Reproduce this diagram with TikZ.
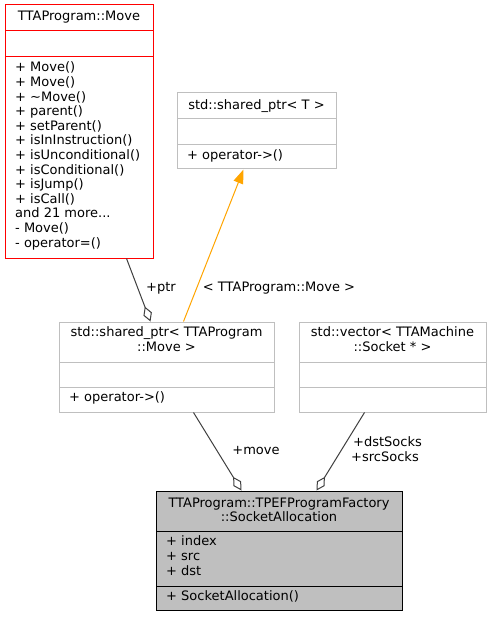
\documentclass[tikz,border=0pt]{standalone}
\usepackage{fontspec}
\setmainfont{DejaVu Sans}
\usetikzlibrary{arrows.meta}
\definecolor{boxgrey}{HTML}{BFBFBF}
\definecolor{edgegrey}{HTML}{404040}
\definecolor{tmplorange}{HTML}{FFA500}
\definecolor{undocred}{HTML}{FF0000}

\begin{document}
\begin{tikzpicture}[x=1pt,y=-1pt,font=\fontsize{13}{15}\selectfont,
  classbox/.style={draw=boxgrey, line width=1pt, inner sep=0pt, fill=white},
  txt/.style={inner sep=0pt, text height=10pt, text depth=3pt},
  member/.style={txt, anchor=west},
  title/.style={txt, anchor=center},
  edge/.style={draw=edgegrey, line width=1pt},
  agg/.style={edge, -{Diamond[fill=white,length=16pt,width=9pt]}}]
\fill[white] (0,0) rectangle (491,617);
\useasboundingbox (0,0) rectangle (491,617);

\node[classbox, draw=undocred, minimum width=148, minimum height=253] (move) at (79,131.5) {};
\draw[undocred, line width=1pt] (5,31) -- (153,31);
\draw[undocred, line width=1pt] (5,57) -- (153,57);
\node[title] (move-t) at (79,17.5) {TTAProgram::Move};
\node[member] (move-m1) at (15,68.5) {+ Move()};
\node[member] (move-m2) at (15,83.1) {+ Move()};
\node[member] (move-m3) at (15,97.7) {+ \textasciitilde Move()};
\node[member] (move-m4) at (15,112.3) {+ parent()};
\node[member] (move-m5) at (15,126.9) {+ setParent()};
\node[member] (move-m6) at (15,141.5) {+ isInInstruction()};
\node[member] (move-m7) at (15,156.1) {+ isUnconditional()};
\node[member] (move-m8) at (15,170.7) {+ isConditional()};
\node[member] (move-m9) at (15,185.3) {+ isJump()};
\node[member] (move-m10) at (15,199.9) {+ isCall()};
\node[member] (move-m11) at (15,214.5) {and 21 more...};
\node[member] (move-m12) at (15,229.1) {- Move()};
\node[member] (move-m13) at (15,243.7) {- operator=()};

\node[classbox, minimum width=159, minimum height=76] (sptrT) at (256.5,131) {};
\draw[boxgrey, line width=1pt] (177,119) -- (336,119);
\draw[boxgrey, line width=1pt] (177,145) -- (336,145);
\node[title] (sptrT-t) at (256.5,106) {std::shared\_ptr< T >};
\node[member] (sptrT-m1) at (187,156) {+ operator->()};

\node[classbox, minimum width=215, minimum height=90] (sptrMove) at (166.5,367) {};
\draw[boxgrey, line width=1pt] (59,362) -- (274,362);
\draw[boxgrey, line width=1pt] (59,387) -- (274,387);
\node[title] (sptrMove-t1) at (166.5,333) {std::shared\_ptr< TTAProgram};
\node[title] (sptrMove-t2) at (166.5,348) {::Move >};
\node[member] (sptrMove-m1) at (69,398) {+ operator->()};

\node[classbox, minimum width=187, minimum height=90] (sockvec) at (392.5,367) {};
\draw[boxgrey, line width=1pt] (299,362) -- (486,362);
\draw[boxgrey, line width=1pt] (299,387) -- (486,387);
\node[title] (sockvec-t1) at (392.5,333) {std::vector< TTAMachine};
\node[title] (sockvec-t2) at (392.5,348) {::Socket * >};

\node[classbox, draw=black, fill=boxgrey, minimum width=246, minimum height=119] (alloc) at (279,550.5) {};
\draw[black, line width=1pt] (156,531) -- (402,531);
\draw[black, line width=1pt] (156,586) -- (402,586);
\node[title] (alloc-t1) at (279,503.5) {TTAProgram::TPEFProgramFactory};
\node[title] (alloc-t2) at (279,518) {::SocketAllocation};
\node[member] (alloc-m1) at (166,542) {+ index};
\node[member] (alloc-m2) at (166,557) {+ src};
\node[member] (alloc-m3) at (166,572) {+ dst};
\node[member] (alloc-m4) at (166,597) {+ SocketAllocation()};

\path[agg] ([xshift=122]move.south west) -- ([xshift=92]sptrMove.north west);
\node[title] (ptr) at (161,288) {+ptr};
\path[draw=tmplorange, line width=1pt, -{Triangle[length=14pt,width=10pt]}] ([xshift=125]sptrMove.north west) -- ([xshift=67]sptrT.south west);
\node[title] (tmpl) at (279,288) {< TTAProgram::Move >};
\path[agg] ([xshift=135]sptrMove.south west) -- ([xshift=86]alloc.north west);
\node[title] (movelbl) at (256,451) {+move};
\path[agg] ([xshift=66]sockvec.south west) -- ([xshift=161]alloc.north west);
\node[title] (socks1) at (387.5,443) {+dstSocks};
\node[title] (socks2) at (385,458) {+srcSocks};
\end{tikzpicture}
\end{document}
